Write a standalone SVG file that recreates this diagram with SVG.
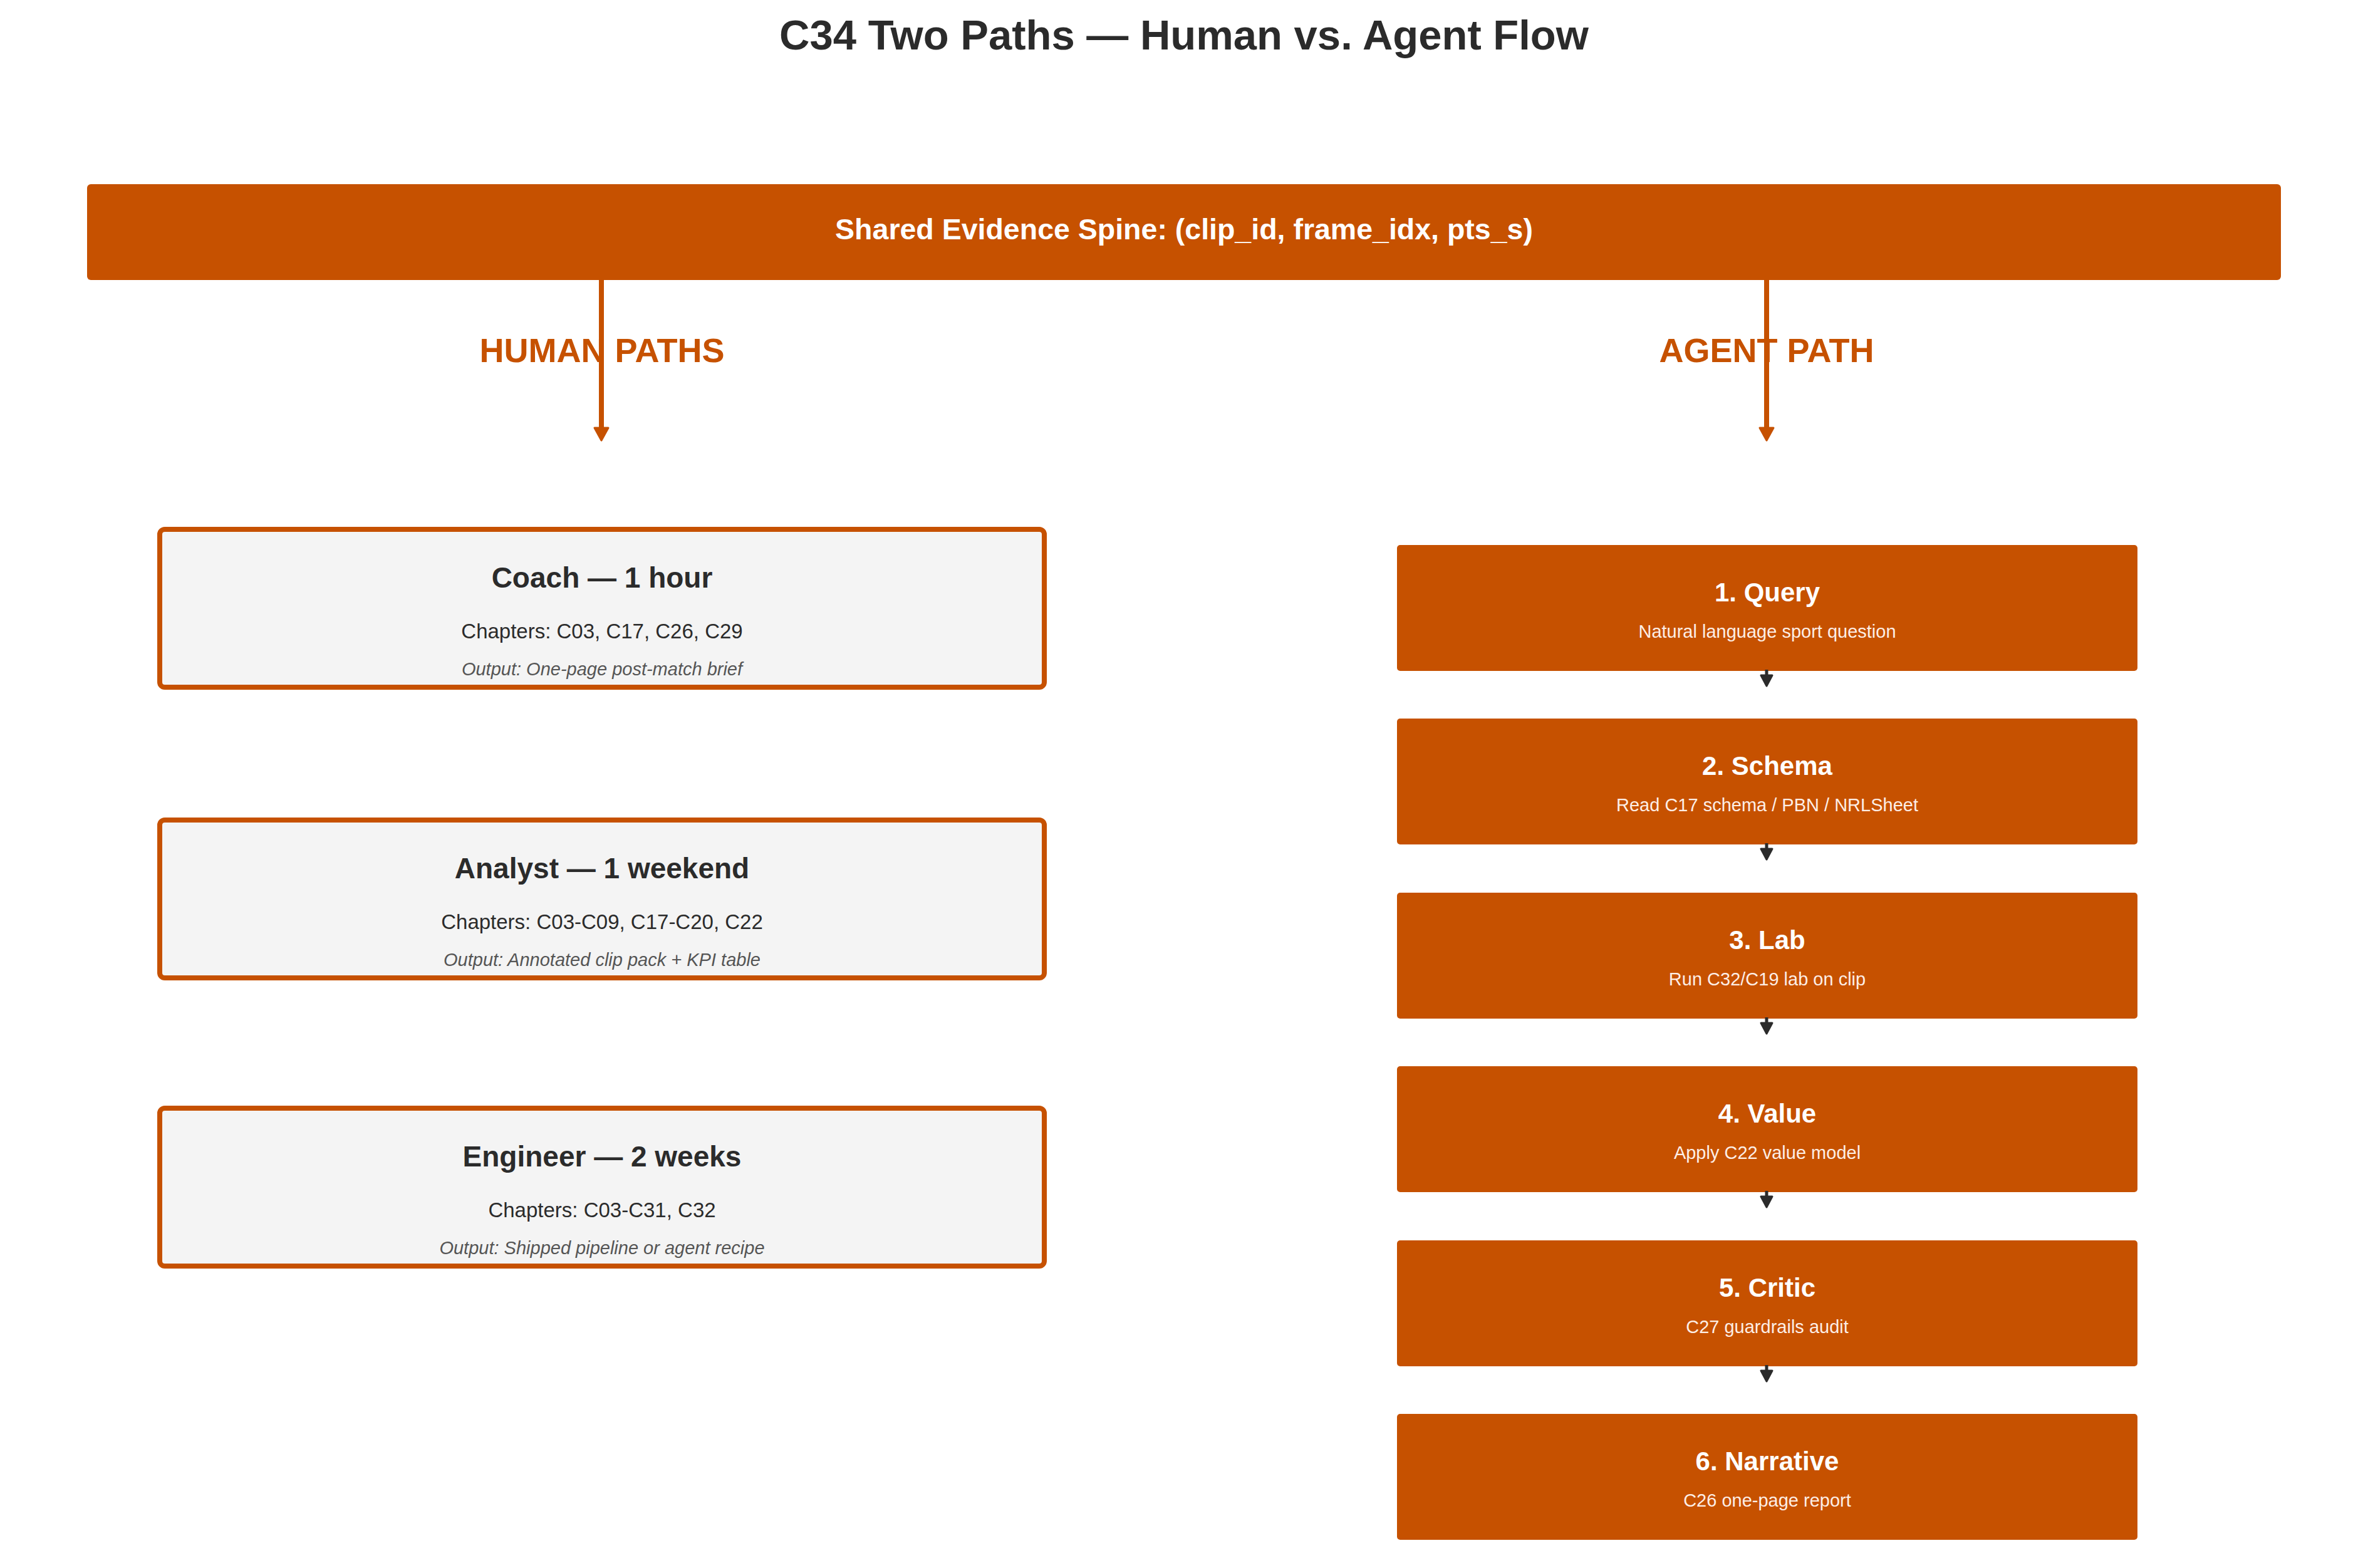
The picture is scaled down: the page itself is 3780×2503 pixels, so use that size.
<svg xmlns="http://www.w3.org/2000/svg" width="3780" height="2503" viewBox="0 0 3780 2503">
<style>
  text { font-family: "Liberation Sans", Arial, Helvetica, sans-serif; text-anchor: middle; }
  .title { font-size: 67px; font-weight: bold; fill: #2b2b2b; }
  .spine { fill: #c65100; }
  .spinetxt { font-size: 46.5px; font-weight: bold; fill: #ffffff; }
  .colhead { font-size: 54px; font-weight: bold; fill: #c65100; }
  .hbox { fill: #f4f4f4; stroke: #c65100; stroke-width: 8; }
  .htitle { font-size: 46px; font-weight: bold; fill: #2b2b2b; }
  .hchap { font-size: 33px; fill: #2b2b2b; }
  .hout { font-size: 29px; font-style: italic; fill: #555555; }
  .abox { fill: #c65100; }
  .atitle { font-size: 42px; font-weight: bold; fill: #ffffff; }
  .asub { font-size: 29px; fill: #fdeee6; }
  .orange { stroke: #c65100; stroke-width: 8; fill: none; }
  .dark { stroke: #2b2b2b; stroke-width: 5; fill: none; }
</style>
<defs>
  <marker id="headOrange" markerUnits="userSpaceOnUse" viewBox="-4 -16 30 32" markerWidth="30" markerHeight="32" refX="0" refY="0" orient="auto">
    <path d="M0,-11 L20,0 L0,11 Z" fill="#c65100" stroke="#c65100" stroke-width="3" stroke-linejoin="round"/>
  </marker>
  <marker id="headDark" markerUnits="userSpaceOnUse" viewBox="-4 -14 26 28" markerWidth="26" markerHeight="28" refX="0" refY="0" orient="auto">
    <path d="M0,-9 L17,0 L0,9 Z" fill="#2b2b2b" stroke="#2b2b2b" stroke-width="3" stroke-linejoin="round"/>
  </marker>
</defs>
<rect width="3780" height="2503" fill="#ffffff"/>

<text class="title" x="1890" y="79">C34 Two Paths — Human vs. Agent Flow</text>

<g id="spine">
  <rect class="spine" x="139" y="294" width="3502" height="153" rx="6"/>
  <text class="spinetxt" x="1890" y="382">Shared Evidence Spine: (clip_id, frame_idx, pts_s)</text>
</g>

<g id="human-header"><text class="colhead" x="961" y="578">HUMAN PATHS</text></g>
<g id="agent-header"><text class="colhead" x="2820" y="578">AGENT PATH</text></g>

<g id="coach">
  <rect class="hbox" x="255" y="845" width="1412" height="252" rx="8"/>
  <text class="htitle" x="961" y="938">Coach — 1 hour</text>
  <text class="hchap" x="961" y="1019">Chapters: C03, C17, C26, C29</text>
  <text class="hout" x="961" y="1078">Output: One-page post-match brief</text>
</g>
<g id="analyst">
  <rect class="hbox" x="255" y="1309" width="1412" height="252" rx="8"/>
  <text class="htitle" x="961" y="1402">Analyst — 1 weekend</text>
  <text class="hchap" x="961" y="1483">Chapters: C03-C09, C17-C20, C22</text>
  <text class="hout" x="961" y="1542">Output: Annotated clip pack + KPI table</text>
</g>
<g id="engineer">
  <rect class="hbox" x="255" y="1769" width="1412" height="252" rx="8"/>
  <text class="htitle" x="961" y="1862">Engineer — 2 weeks</text>
  <text class="hchap" x="961" y="1943">Chapters: C03-C31, C32</text>
  <text class="hout" x="961" y="2002">Output: Shipped pipeline or agent recipe</text>
</g>

<g id="query">
  <rect class="abox" x="2230" y="870" width="1182" height="201" rx="5"/>
  <text class="atitle" x="2821" y="960">1. Query</text>
  <text class="asub" x="2821" y="1018">Natural language sport question</text>
</g>
<g id="schema">
  <rect class="abox" x="2230" y="1147" width="1182" height="201" rx="5"/>
  <text class="atitle" x="2821" y="1237">2. Schema</text>
  <text class="asub" x="2821" y="1295">Read C17 schema / PBN / NRLSheet</text>
</g>
<g id="lab">
  <rect class="abox" x="2230" y="1425" width="1182" height="201" rx="5"/>
  <text class="atitle" x="2821" y="1515">3. Lab</text>
  <text class="asub" x="2821" y="1573">Run C32/C19 lab on clip</text>
</g>
<g id="value">
  <rect class="abox" x="2230" y="1702" width="1182" height="201" rx="5"/>
  <text class="atitle" x="2821" y="1792">4. Value</text>
  <text class="asub" x="2821" y="1850">Apply C22 value model</text>
</g>
<g id="critic">
  <rect class="abox" x="2230" y="1980" width="1182" height="201" rx="5"/>
  <text class="atitle" x="2821" y="2070">5. Critic</text>
  <text class="asub" x="2821" y="2128">C27 guardrails audit</text>
</g>
<g id="narrative">
  <rect class="abox" x="2230" y="2257" width="1182" height="201" rx="5"/>
  <text class="atitle" x="2821" y="2347">6. Narrative</text>
  <text class="asub" x="2821" y="2405">C26 one-page report</text>
</g>

<g id="connectors">
  <line class="orange" x1="960" y1="447" x2="960" y2="683" marker-end="url(#headOrange)"/>
  <line class="orange" x1="2820" y1="447" x2="2820" y2="683" marker-end="url(#headOrange)"/>
  <line class="dark" x1="2820" y1="1069" x2="2820" y2="1078" marker-end="url(#headDark)"/>
  <line class="dark" x1="2820" y1="1346" x2="2820" y2="1355" marker-end="url(#headDark)"/>
  <line class="dark" x1="2820" y1="1624" x2="2820" y2="1633" marker-end="url(#headDark)"/>
  <line class="dark" x1="2820" y1="1901" x2="2820" y2="1910" marker-end="url(#headDark)"/>
  <line class="dark" x1="2820" y1="2179" x2="2820" y2="2188" marker-end="url(#headDark)"/>
</g>
</svg>
